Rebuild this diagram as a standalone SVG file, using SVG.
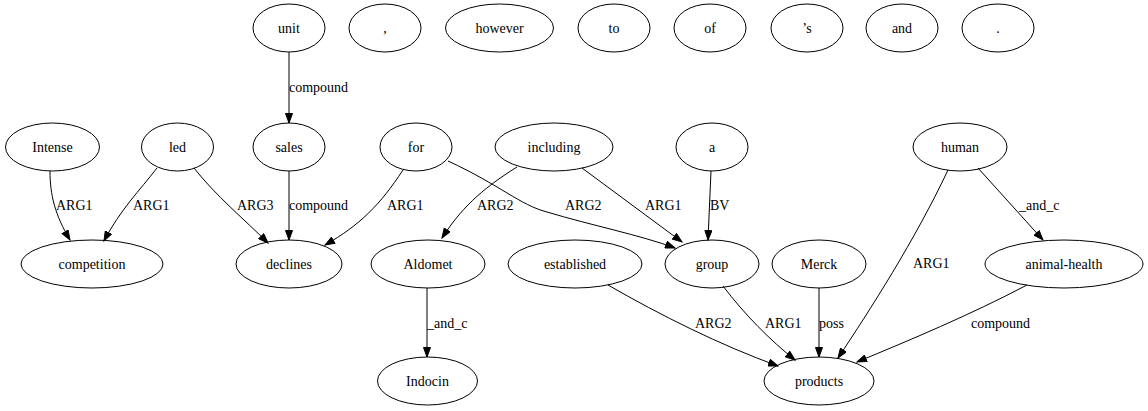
<svg xmlns="http://www.w3.org/2000/svg" width="1148" height="411" viewBox="0 0 1148 411">
<style>
ellipse{fill:none;stroke:#000;stroke-width:1}
text{font-family:"Times New Roman",Times,"Liberation Serif",serif;font-size:14px;fill:#000}
.n text{text-anchor:middle}
.e path{fill:none;stroke:#000;stroke-width:1;marker-end:url(#ah)}
</style>
<defs>
<marker id="ah" markerUnits="userSpaceOnUse" markerWidth="11" markerHeight="8" refX="10" refY="4" orient="auto">
<path d="M0.5,0.5 L10,4 L0.5,7.5 z" fill="#000" stroke="#000" stroke-width="1"/>
</marker>
</defs>
<rect width="1148" height="411" fill="#fff"/>
<g class="n">
<g id="unit"><ellipse cx="289" cy="28" rx="36" ry="24"/><text x="289" y="33">unit</text></g>
<g id="comma"><ellipse cx="385" cy="28" rx="36" ry="24"/><text x="385" y="33">,</text></g>
<g id="however"><ellipse cx="499.5" cy="28" rx="54" ry="24"/><text x="499.5" y="33">however</text></g>
<g id="to"><ellipse cx="614" cy="28" rx="36" ry="24"/><text x="614" y="33">to</text></g>
<g id="of"><ellipse cx="710" cy="28" rx="36" ry="24"/><text x="710" y="33">of</text></g>
<g id="s"><ellipse cx="807" cy="28" rx="36" ry="24"/><text x="807" y="33">’s</text></g>
<g id="and"><ellipse cx="902" cy="28" rx="36" ry="24"/><text x="902" y="33">and</text></g>
<g id="period"><ellipse cx="998" cy="28" rx="36" ry="24"/><text x="998" y="33">.</text></g>
<g id="Intense"><ellipse cx="52.5" cy="147" rx="47" ry="24"/><text x="52.5" y="152">Intense</text></g>
<g id="led"><ellipse cx="177.5" cy="147" rx="36" ry="24"/><text x="177.5" y="152">led</text></g>
<g id="sales"><ellipse cx="289" cy="147" rx="36" ry="24"/><text x="289" y="152">sales</text></g>
<g id="for"><ellipse cx="416" cy="147" rx="36" ry="24"/><text x="416" y="152">for</text></g>
<g id="including"><ellipse cx="554" cy="147" rx="59" ry="24"/><text x="554" y="152">including</text></g>
<g id="a"><ellipse cx="712" cy="147" rx="36" ry="24"/><text x="712" y="152">a</text></g>
<g id="human"><ellipse cx="960" cy="147" rx="47" ry="24"/><text x="960" y="152">human</text></g>
<g id="competition"><ellipse cx="92" cy="264" rx="71" ry="24"/><text x="92" y="269">competition</text></g>
<g id="declines"><ellipse cx="289" cy="264" rx="53" ry="24"/><text x="289" y="269">declines</text></g>
<g id="Aldomet"><ellipse cx="428" cy="264" rx="57" ry="24"/><text x="428" y="269">Aldomet</text></g>
<g id="established"><ellipse cx="575" cy="264" rx="67" ry="24"/><text x="575" y="269">established</text></g>
<g id="group"><ellipse cx="712" cy="264" rx="47" ry="24"/><text x="712" y="269">group</text></g>
<g id="Merck"><ellipse cx="819" cy="264" rx="47" ry="24"/><text x="819" y="269">Merck</text></g>
<g id="animal-health"><ellipse cx="1064" cy="264" rx="79" ry="24"/><text x="1064" y="269">animal-health</text></g>
<g id="Indocin"><ellipse cx="427.5" cy="381" rx="50" ry="24"/><text x="427.5" y="386">Indocin</text></g>
<g id="products"><ellipse cx="819" cy="381" rx="55" ry="24"/><text x="819" y="386">products</text></g>
</g>
<g id="edges" class="e">
<path d="M289,52 L289,123"/>
<path d="M50,171 C50,195 55,215 70,240"/>
<path d="M157,168 C140,190 120,210 104,241"/>
<path d="M194,168 C215,195 245,220 268,243"/>
<path d="M289,171 L289,240"/>
<path d="M403,170 C380,205 360,225 325,245"/>
<path d="M448,161 C500,185 520,205 547,212 C590,225 640,235 675,248"/>
<path d="M517,167 C480,190 460,210 442,238"/>
<path d="M582,168 L682,242"/>
<path d="M711,171 L708,240"/>
<path d="M978,168 L1043,240"/>
<path d="M948,170 C915,240 870,310 838,358"/>
<path d="M427,288 L427,357"/>
<path d="M608,285 C660,315 720,345 778,366"/>
<path d="M723,286 C745,315 770,340 795,360"/>
<path d="M819,288 L819,357"/>
<path d="M1027,285 C970,315 910,340 857,362"/>
</g>
<g id="labels">
<text x="289" y="92">compound</text>
<text x="56" y="210">ARG1</text>
<text x="133" y="210">ARG1</text>
<text x="237" y="210">ARG3</text>
<text x="289" y="210">compound</text>
<text x="387" y="210">ARG1</text>
<text x="477" y="210">ARG2</text>
<text x="565" y="210">ARG2</text>
<text x="645" y="210">ARG1</text>
<text x="710" y="210">BV</text>
<text x="1019" y="210">_and_c</text>
<text x="913" y="268">ARG1</text>
<text x="427" y="328">_and_c</text>
<text x="695" y="328">ARG2</text>
<text x="765" y="328">ARG1</text>
<text x="819" y="328">poss</text>
<text x="971" y="328">compound</text>
</g>
</svg>
